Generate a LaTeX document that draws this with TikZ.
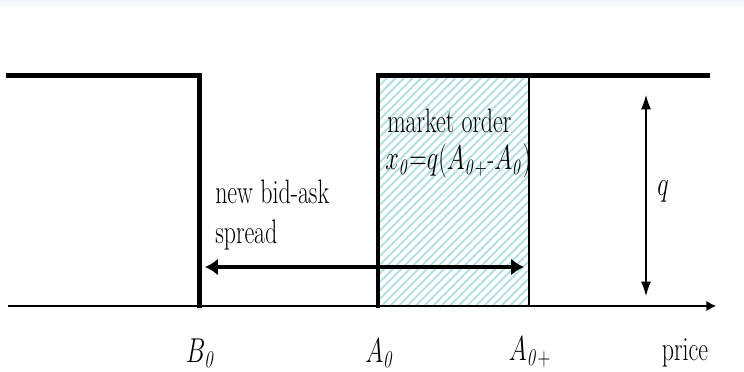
\documentclass[tikz,border=0pt]{standalone}
\usepackage{amsmath}
\usepackage{graphicx}
\usetikzlibrary{arrows.meta,patterns.meta}

\definecolor{hatchc}{RGB}{178,224,226}
\definecolor{bandc}{RGB}{247,247,255}
\newcommand{\tallbox}[1]{\scalebox{1}[1.42]{#1}}

\begin{document}
\begin{tikzpicture}[
        x=0.025cm, y=0.025cm,
        font=\fontsize{17}{20}\selectfont,
        book/.style={line width=3.4pt, line cap=rect},
        slim/.style={line width=0.9pt},
        axisarr/.style={-{Latex[length=2.4mm,width=2.6mm]}, line width=1pt},
        spreadarr/.style={{Latex[length=3.2mm,width=4.2mm]}-{Latex[length=3.2mm,width=4.2mm]}, line width=2.4pt},
        qarr/.style={{Latex[length=3.6mm,width=2.5mm]}-{Latex[length=3.6mm,width=2.5mm]}, line width=0.8pt},
        hatch/.style={pattern={Lines[angle=45,distance=4.3pt,line width=1.4pt]}, pattern color=hatchc},
        lbl/.style={anchor=base west, inner sep=0pt},
        ticklbl/.style={anchor=base, inner sep=0pt}
    ]
        \useasboundingbox (0,0) rectangle (744,371);
        \fill[bandc] (0,365) rectangle (744,371);

        %--- Anchor points ---
        \coordinate (orig) at (8,65);
        \coordinate (xend) at (716,65);
        \coordinate (bidtop) at (8,295.5);
        \coordinate (bidcorner) at (199.5,295.5);
        \coordinate (bidfoot) at (199.5,65);
        \coordinate (askfoot) at (378,65);
        \coordinate (askcorner) at (378,295.5);
        \coordinate (askplus) at (529,295.5);
        \coordinate (askend) at (708,295.5);
        \coordinate (sprL) at (205,104);
        \coordinate (sprR) at (524,104);
        \coordinate (qtop) at (646,276);
        \coordinate (qbot) at (646,75);

        %--- Market order block ---
        \fill[hatch] (askfoot) rectangle (askplus);
        \draw[slim] (askplus) -- (askplus |- askfoot);

        %--- Price axis ---
        \draw[axisarr] (orig) -- (xend);

        %--- Order book edges ---
        \draw[book] (bidtop) -- (bidcorner) -- (bidfoot);
        \draw[book] (askfoot) -- (askcorner) -- (askend);

        %--- Arrows ---
        \draw[spreadarr] (sprL) -- (sprR);
        \draw[qarr] (qtop) -- (qbot);

        %--- Labels ---
        \node[lbl] (spread1) at (215,168) {\tallbox{new bid-ask}};
        \node[lbl] (spread2) at (215,128) {\tallbox{spread}};
        \node[lbl] (order1) at (387,239) {\tallbox{market order}};
        \node[lbl, font=\fontsize{16}{19}\selectfont] (order2) at (385,202)
            {\tallbox{$x_{\mathit{0}}{=}q(A_{\mathit{0+}}$-$A_{\mathit{0}})$}};
        \node[ticklbl] (qlbl) at (663,176) {\tallbox{$q$}};

        %--- Axis ticks ---
        \node[ticklbl] (bzero) at (201,9) {\tallbox{$B_{\mathit{0}}$}};
        \node[ticklbl] (azero) at (380,9) {\tallbox{$A_{\mathit{0}}$}};
        \node[ticklbl] (aplus) at (530,11) {\tallbox{$A_{\mathit{0+}}$}};
        \node[ticklbl] (price) at (685,11) {\tallbox{price}};
\end{tikzpicture}
\end{document}
